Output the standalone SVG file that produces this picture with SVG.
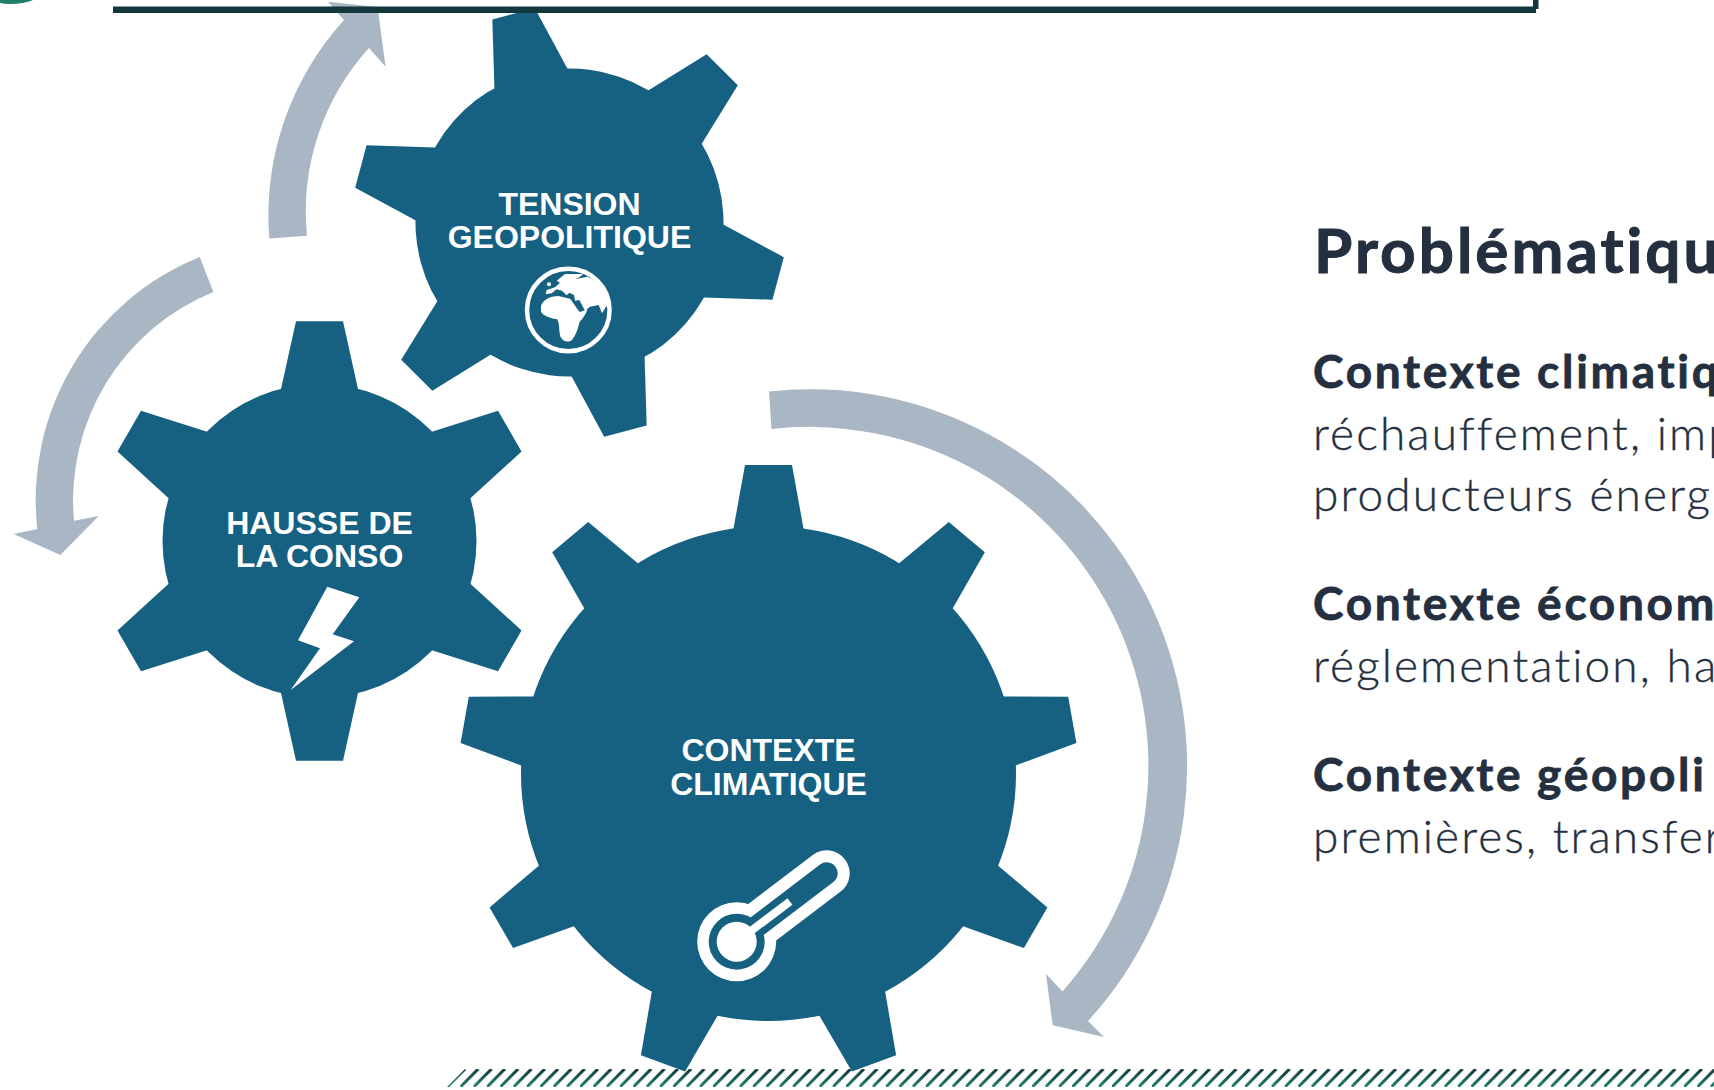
<svg xmlns="http://www.w3.org/2000/svg" width="1714" height="1090" viewBox="0 0 1714 1090">
<style>
.gear{fill:#166082}
.arrow{fill:#a9b6c3}
.label{font:bold 32px "Liberation Sans",Arial,sans-serif;fill:#fff;text-anchor:middle}
.h1{font:700 62px Lato,"Noto Sans",sans-serif;fill:#242f3f;stroke:#242f3f;stroke-width:1;letter-spacing:3px}
.h2{font:700 46px Lato,"Noto Sans",sans-serif;fill:#242f3f;stroke:#242f3f;stroke-width:.8;letter-spacing:2.7px}
.body{font:300 46px Lato,"Noto Sans",sans-serif;fill:#242f3f;stroke:#242f3f;stroke-width:.35;letter-spacing:2.1px}
.frame{fill:#12373d}
</style>
<defs>
<polygon id="toothL" points="-35,-200 -35,-245 -23.5,-308.5 23.5,-308.5 35,-245 35,-200"/>
<polygon id="toothM" points="-38.5,-100 -38.5,-152 -23.5,-219.7 23.5,-219.7 38.5,-152 38.5,-100"/>
<polygon id="toothS" points="-37.7,-100 -37.7,-149.5 -22,-216 22,-216 37.7,-149.5 37.7,-100"/>
<linearGradient id="hg" gradientUnits="userSpaceOnUse" x1="0" y1="0" x2="0" y2="18"><stop offset="0" stop-color="#12373d"/><stop offset="1" stop-color="#1f8068"/></linearGradient>
<pattern id="hatch" patternUnits="userSpaceOnUse" width="13.3" height="18" patternTransform="translate(447,1069)">
<path d="M0,18L18,0M-13.3,18L4.7,0" stroke="url(#hg)" stroke-width="3" fill="none"/>
</pattern>
</defs>
<rect width="1714" height="1090" fill="#fff"/>
<path id="corner-mark" d="M0,3 C10,5 24,4 33,0 L0,0Z" fill="#1f8068"/>
<path id="hatch-band" d="M447,1087L465,1069H1714V1087Z" fill="url(#hatch)"/>
<g id="connectors">
<path class="arrow" d="M769,391.5A377,377 0 0 1 1088,1021L1104,1037L1052.7,1025.3L1046,974L1062.5,991.4A339,339 0 0 0 771.5,429Z"/>
<path class="arrow" d="M199.7,257A262,262 0 0 0 37.3,529L13.7,534L60.3,555L98.7,516L74,520.7A225,225 0 0 1 213.4,292Z"/>
<path class="arrow" d="M269.3,238.6A291,291 0 0 1 344,20L328,1.8L377.5,7L385.6,66.8L369,48A243,243 0 0 0 307,235.7Z"/>
</g>
<g id="gear-climat">
<g class="gear" transform="translate(768.5,773.5)">
<circle r="247.5"/>
<use href="#toothL"/><use href="#toothL" transform="rotate(40)"/><use href="#toothL" transform="rotate(80)"/><use href="#toothL" transform="rotate(120)"/><use href="#toothL" transform="rotate(160)"/><use href="#toothL" transform="rotate(200)"/><use href="#toothL" transform="rotate(240)"/><use href="#toothL" transform="rotate(280)"/><use href="#toothL" transform="rotate(320)"/>
</g>
<text class="label" x="768.5" y="761">CONTEXTE</text>
<text class="label" x="768.5" y="795">CLIMATIQUE</text>
<circle cx="736.7" cy="941.7" r="39.5" fill="#fff"/>
<line x1="736.7" y1="941.7" x2="826.7" y2="873.3" stroke="#fff" stroke-width="46" stroke-linecap="round"/>
<circle cx="736.7" cy="941.7" r="28" fill="#166082"/>
<line x1="736.7" y1="941.7" x2="826.7" y2="873.3" stroke="#166082" stroke-width="22" stroke-linecap="round"/>
<circle cx="736.7" cy="941.7" r="20" fill="#fff"/>
<line x1="736.7" y1="941.7" x2="790" y2="901.5" stroke="#fff" stroke-width="8"/>
</g>
<g id="gear-conso">
<g class="gear" transform="translate(319.5,541)">
<circle r="157"/>
<use href="#toothM"/><use href="#toothM" transform="rotate(60)"/><use href="#toothM" transform="rotate(120)"/><use href="#toothM" transform="rotate(180)"/><use href="#toothM" transform="rotate(240)"/><use href="#toothM" transform="rotate(300)"/>
</g>
<text class="label" x="319.5" y="534">HAUSSE DE</text>
<text class="label" x="319.5" y="567">LA CONSO</text>
<polygon points="327.3,586.7 359.3,597.3 332.7,634.3 354,641.3 290.7,690 320,648.3 298,640.3" fill="#fff"/>
</g>
<g id="gear-tension">
<g class="gear" transform="translate(569.5,222.5) rotate(-15)">
<circle r="154"/>
<use href="#toothS"/><use href="#toothS" transform="rotate(60)"/><use href="#toothS" transform="rotate(120)"/><use href="#toothS" transform="rotate(180)"/><use href="#toothS" transform="rotate(240)"/><use href="#toothS" transform="rotate(300)"/>
</g>
<text class="label" x="569.5" y="215">TENSION</text>
<text class="label" x="569.5" y="248">GEOPOLITIQUE</text>
<circle cx="568.3" cy="310" r="41.3" fill="none" stroke="#fff" stroke-width="4.5"/>
<g transform="translate(500,250) scale(.3333)" fill="#fff">
<path d="M123,168C128,150 150,138 175,138L210,146C222,160 232,178 240,186L262,178C258,195 245,208 238,218C234,235 228,255 216,270C205,278 190,276 182,262C176,245 180,225 172,208C155,205 132,200 123,185Z"/>
<path d="M170,92L195,72L250,72L238,82L225,88L262,80C295,95 322,125 331,165L318,170L306,190L296,165L270,170L255,182L238,150L225,152L222,135L208,128L200,136L186,122L170,118L155,130L137,133L140,120L165,112L180,98Z"/>
<circle cx="147" cy="103" r="6"/>
</g>
</g>
<g id="top-frame">
<rect class="frame" x="113" y="6.5" width="1423" height="6.5"/>
<rect class="frame" x="1533" y="0" width="5.5" height="9"/>
</g>
<g id="text-panel">
<text class="h1" x="1314" y="273.3">Problématiqu</text>
<text class="h2" x="1313" y="388">Contexte climatiq</text>
<text class="body" x="1313" y="449.5">réchauffement, imp</text>
<text class="body" x="1313" y="511">producteurs énerg</text>
<text class="h2" x="1313" y="619.7">Contexte économ</text>
<text class="body" x="1313" y="681.7">réglementation, ha</text>
<text class="h2" x="1313" y="790.7">Contexte géopoli</text>
<text class="body" x="1313" y="853.3">premières, transfer</text>
</g>
</svg>
